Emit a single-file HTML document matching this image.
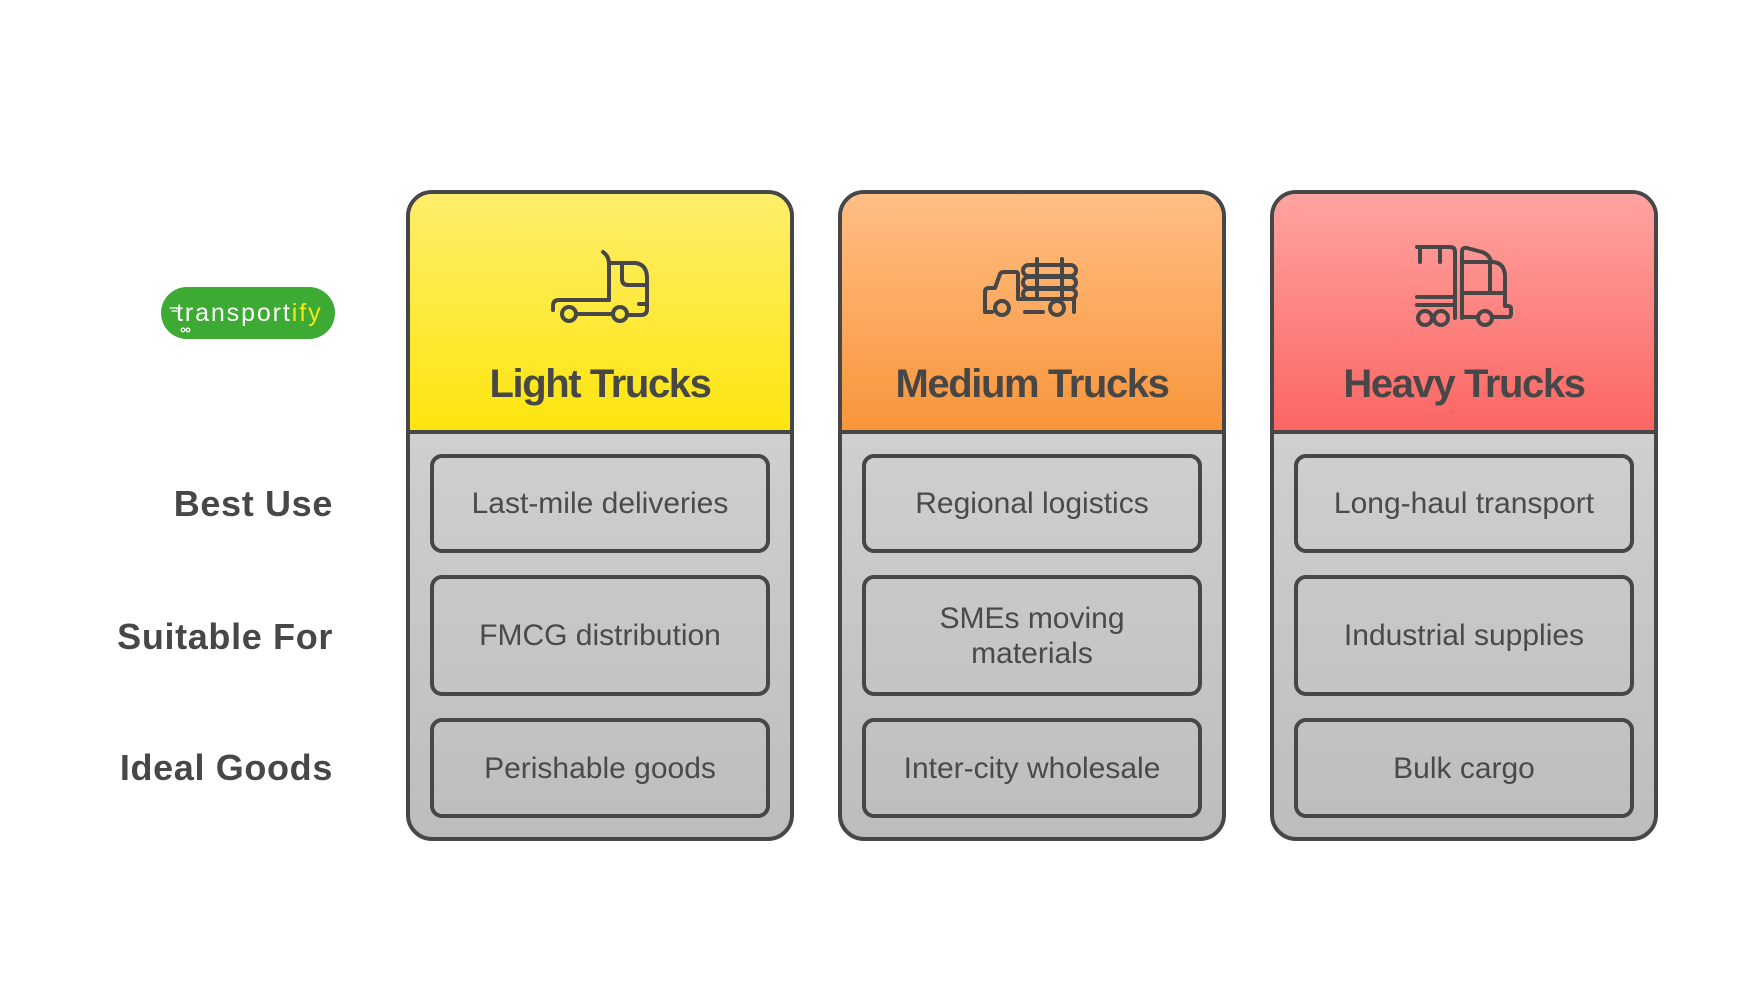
<!DOCTYPE html>
<html>
<head>
<meta charset="utf-8">
<style>
  html,body{margin:0;padding:0;}
  body{width:1752px;height:984px;background:#ffffff;position:relative;overflow:hidden;font-family:"Liberation Sans",Arial,sans-serif;}
  .card{position:absolute;top:190px;width:388px;height:651px;box-sizing:border-box;border:4px solid #474747;border-radius:26px;overflow:hidden;background:linear-gradient(#dadada,#bdbdbd);}
  .hdr{position:absolute;left:0;top:0;width:100%;height:236px;border-bottom:4px solid #474747;}
  .y{background:linear-gradient(#feee6b,#fde50e);}
  .o{background:linear-gradient(#ffbe84,#f8953a);}
  .r{background:linear-gradient(#ffa3a0,#fb6663);}
  .box{position:absolute;width:340px;box-sizing:border-box;border:4px solid #474747;border-radius:12px;display:flex;align-items:center;justify-content:center;text-align:center;font-size:30px;line-height:35px;color:#4a4a4a;}
  .title{position:absolute;top:364px;width:388px;text-align:center;font-weight:bold;font-size:40px;line-height:40px;letter-spacing:-1.4px;color:#474747;white-space:nowrap;}
  .lbl{position:absolute;right:1419px;font-weight:bold;font-size:36px;line-height:36px;letter-spacing:0.65px;color:#474747;white-space:nowrap;text-align:right;}
  .logo{position:absolute;left:161px;top:287px;width:174px;height:52px;border-radius:26px;background:#3caa33;}
  .logo span.t{position:absolute;left:15px;top:11px;font-size:25px;line-height:30px;letter-spacing:1.9px;color:#ffffff;white-space:nowrap;}
  .logo span.t b{font-weight:normal;color:#f5e614;}
</style>
</head>
<body>

<div class="logo"><span class="t">transport<b>ify</b></span></div>

<div class="lbl" style="top:486px;">Best Use</div>
<div class="lbl" style="top:619px;">Suitable For</div>
<div class="lbl" style="top:750px;">Ideal Goods</div>

<div class="card" style="left:406px;"><div class="hdr y"></div></div>
<div class="card" style="left:838px;"><div class="hdr o"></div></div>
<div class="card" style="left:1270px;"><div class="hdr r"></div></div>

<div class="title" style="left:406px;">Light Trucks</div>
<div class="title" style="left:838px;">Medium Trucks</div>
<div class="title" style="left:1270px;">Heavy Trucks</div>

<div class="box" style="left:430px;top:454px;height:99px;">Last-mile deliveries</div>
<div class="box" style="left:430px;top:575px;height:121px;">FMCG distribution</div>
<div class="box" style="left:430px;top:718px;height:100px;">Perishable goods</div>

<div class="box" style="left:862px;top:454px;height:99px;">Regional logistics</div>
<div class="box" style="left:862px;top:575px;height:121px;">SMEs moving<br>materials</div>
<div class="box" style="left:862px;top:718px;height:100px;">Inter-city wholesale</div>

<div class="box" style="left:1294px;top:454px;height:99px;">Long-haul transport</div>
<div class="box" style="left:1294px;top:575px;height:121px;">Industrial supplies</div>
<div class="box" style="left:1294px;top:718px;height:100px;">Bulk cargo</div>

<svg width="1752" height="984" style="position:absolute;left:0;top:0;" fill="none" stroke="#474747" stroke-width="4" stroke-linecap="round" stroke-linejoin="round">
  <!-- logo small wheels / speed lines -->
  <circle cx="183" cy="330" r="1.8" stroke="#fff" stroke-width="1.3"/>
  <circle cx="188" cy="330" r="1.8" stroke="#fff" stroke-width="1.3"/>
  <line x1="170" y1="308" x2="177" y2="308" stroke="#fff" stroke-width="1.3"/>
  <line x1="172" y1="311" x2="177" y2="311" stroke="#fff" stroke-width="1.3"/>

  <!-- Light truck -->
  <path d="M603,252 Q609,256 609,264 L609,300"/>
  <path d="M609,263 L636,263 Q647,265 647,278 L647,309 Q647,315 641,315 L628,315"/>
  <path d="M622,263 L622,279 Q622,285 628,285 L647,285"/>
  <path d="M647,304 L639,304"/>
  <path d="M609,300 L559,300 Q553,300 553,306 L553,310"/>
  <circle cx="569" cy="314" r="7"/>
  <circle cx="620" cy="314" r="7"/>
  <path d="M578,314 L611,314"/>

  <!-- Medium truck -->
  <path d="M992,312 L985,312 L985,292 Q985,288 989,288 L995,288 L1000,274 Q1001,272 1004,272 L1016,272 Q1018,272 1018,275 L1018,299"/>
  <path d="M1018,299 L1074,299 L1074,312"/>
  <rect x="1023" y="265" width="53" height="11" rx="5.5"/>
  <rect x="1023" y="277" width="53" height="11" rx="5.5"/>
  <rect x="1023" y="289" width="53" height="10" rx="5"/>
  <path d="M1037,259 L1037,299"/>
  <path d="M1062,259 L1062,299"/>
  <circle cx="1002" cy="308" r="7"/>
  <circle cx="1057" cy="308" r="7"/>
  <path d="M1025,312 L1043,312"/>

  <!-- Heavy truck -->
  <path d="M1417,247 L1450,247 Q1455,247 1455,252 L1455,318"/>
  <path d="M1420,247 L1420,262"/>
  <path d="M1440,247 L1440,262"/>
  <path d="M1417,297 L1455,297"/>
  <path d="M1417,305 L1455,305"/>
  <path d="M1462,318 L1462,252 Q1462,247 1467,248 L1482,252 Q1490,255 1491,262"/>
  <path d="M1462,262 L1493,262 Q1505,263 1505,277 L1505,306 L1508,306 Q1511,306 1511,309 L1511,314 Q1511,317 1508,317 L1494,317"/>
  <path d="M1490,262 L1490,293"/>
  <path d="M1462,293 L1505,293"/>
  <path d="M1462,317 L1477,317"/>
  <circle cx="1425" cy="318" r="7"/>
  <circle cx="1441" cy="318" r="7"/>
  <circle cx="1485" cy="318" r="7"/>
</svg>

</body>
</html>
